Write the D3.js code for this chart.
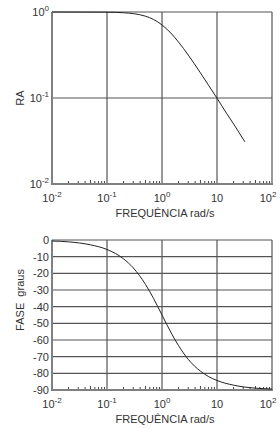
<!DOCTYPE html>
<html>
<head>
<meta charset="utf-8">
<script src="https://cdn.jsdelivr.net/npm/d3@7"></script>
<style>
  body { margin: 0; background: #fff; }
  text { font-family: "Liberation Sans", Arial, sans-serif; fill: #333; }
</style>
</head>
<body>
<svg id="chart" width="280" height="429"></svg>
<script>
// values
const raFreq = [0.01, 0.1, 0.2, 0.3, 0.5, 0.7, 1, 1.5, 2, 3, 5, 7, 10, 15, 20, 32];
const raValues = [1, 0.995, 0.98, 0.958, 0.894, 0.82, 0.707, 0.555, 0.447, 0.316, 0.196, 0.141, 0.0995, 0.066, 0.05, 0.031];

const phaseFreq = [0.01, 0.02, 0.05, 0.1, 0.2, 0.3, 0.5, 0.7, 1, 1.5, 2, 3, 5, 7, 10, 20, 50, 100];
const phaseValues = [-0.6, -1.1, -2.9, -5.7, -11.3, -16.7, -26.6, -35, -45, -56.3, -63.4, -71.6, -78.7, -81.9, -84.3, -87.1, -88.9, -89.4];

const freqTicks = [0.01, 0.1, 1, 10, 100];
const freqTickLabels = [["10", "-2"], ["10", "-1"], ["10", "0"], ["10", ""], ["10", "2"]];
const raTicks = [1, 0.1, 0.01];
const raTickLabels = [["10", "0"], ["10", "-1"], ["10", "-2"]];
const phaseTicks = [0, -10, -20, -30, -40, -50, -60, -70, -80, -90];

const svg = d3.select("#chart");
const left = 52, right = 272;

const x = d3.scaleLog().domain([0.01, 100]).range([left, right]);
const yRA = d3.scaleLog().domain([0.01, 1]).range([184, 12]);
const yPh = d3.scaleLinear().domain([-90, 0]).range([390, 240]);

const gridColor = "#555";
const axisColor = "#808080";

// minor ticks for the log frequency axis
const minorTicks = [];
for (let d = 0.01; d < 100; d *= 10) {
    for (let k = 2; k <= 9; k++) minorTicks.push(d * k);
}

function supLabel(g, xp, yp, parts, anchor) {
    const t = g.append("text")
        .attr("x", xp).attr("y", yp)
        .attr("text-anchor", anchor)
        .style("font-size", "11px");
    t.append("tspan").text(parts[0]);
    if (parts[1]) {
        t.append("tspan").attr("dy", -5).style("font-size", "8px").text(parts[1]);
    }
}

function drawPanel(y, yTop, yBottom, yTicks, yLabels, yTitle, titleY, series, xs) {
    const g = svg.append("g");

    // horizontal grid
    g.selectAll(".hgrid")
        .data(yTicks)
        .enter().append("line")
        .attr("x1", left).attr("x2", right)
        .attr("y1", d => y(d)).attr("y2", d => y(d))
        .attr("stroke", gridColor).attr("stroke-width", 1.2);

    // vertical grid (decades)
    g.selectAll(".vgrid")
        .data(freqTicks)
        .enter().append("line")
        .attr("x1", d => x(d)).attr("x2", d => x(d))
        .attr("y1", yTop).attr("y2", yBottom)
        .attr("stroke", gridColor).attr("stroke-width", 1.2);

    // minor ticks pointing up from the bottom axis
    g.selectAll(".minor")
        .data(minorTicks)
        .enter().append("line")
        .attr("x1", d => x(d)).attr("x2", d => x(d))
        .attr("y1", yBottom).attr("y2", d => yBottom - ([5].includes(Math.round(d / Math.pow(10, Math.floor(Math.log10(d) + 1e-9)))) ? 4 : 3))
        .attr("stroke", "#444").attr("stroke-width", 1);

    // left and bottom axis lines
    g.append("line").attr("x1", left).attr("x2", left).attr("y1", yTop).attr("y2", yBottom + 1)
        .attr("stroke", axisColor).attr("stroke-width", 2);
    g.append("line").attr("x1", left).attr("x2", right + 1).attr("y1", yBottom).attr("y2", yBottom)
        .attr("stroke", axisColor).attr("stroke-width", 2);

    // curve
    const line = d3.line()
        .x(d => x(d[0]))
        .y(d => y(d[1]))
        .curve(d3.curveMonotoneX);
    g.append("path")
        .datum(d3.zip(xs, series))
        .attr("d", line)
        .attr("fill", "none")
        .attr("stroke", "#222")
        .attr("stroke-width", 1);

    // y tick labels
    yTicks.forEach((t, i) => {
        if (yLabels) supLabel(g, 49, y(t) + 4, yLabels[i], "end");
        else g.append("text").attr("x", 49).attr("y", y(t) + 4)
            .attr("text-anchor", "end").style("font-size", "11px").text(t);
    });

    // x tick labels
    freqTicks.forEach((t, i) => {
        supLabel(g, x(t) + (i === 4 ? -4 : 0), yBottom + 18, freqTickLabels[i], "middle");
    });

    g.append("text")
        .attr("x", (left + right) / 2 + 3)
        .attr("y", yBottom + 33)
        .attr("text-anchor", "middle")
        .style("font-size", "11px")
        .text("FREQUÊNCIA rad/s");

    g.append("text")
        .attr("transform", `translate(24, ${titleY}) rotate(-90)`)
        .attr("text-anchor", "middle")
        .style("font-size", "11px")
        .style("white-space", "pre")
        .text(yTitle);
}

drawPanel(yRA, 12, 184, raTicks, raTickLabels, "RA", 98, raValues, raFreq);
drawPanel(yPh, 240, 390, phaseTicks, null, "FASE  graus", 300, phaseValues, phaseFreq);
</script>
</body>
</html>
